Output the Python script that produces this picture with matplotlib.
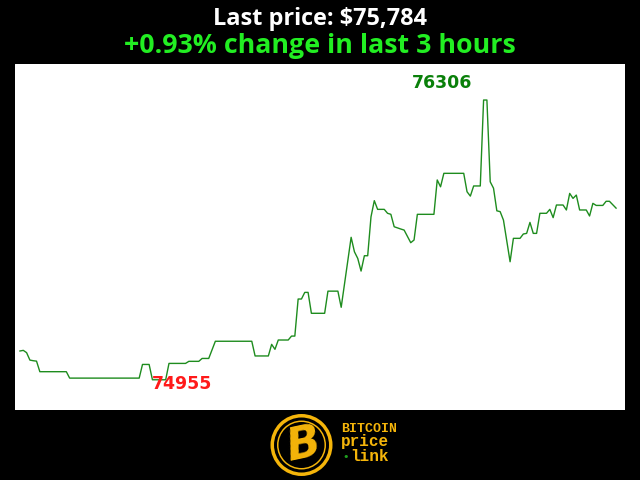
import matplotlib
matplotlib.use("Agg")
from matplotlib import pyplot as plt
from matplotlib.patches import Circle

# minutes since start of the 3 hour window, and BTC price in USD
minutes = [0, 1, 2, 3, 4, 5, 6, 14, 15, 36, 37, 39, 40, 44, 45, 50, 51, 54, 55, 57,
           59, 70, 71, 75, 76, 77, 78, 81, 82, 83, 84, 85, 86, 87, 88, 92, 93, 96, 97, 100,
           101, 102, 103, 104, 105, 106, 107, 108, 110, 111, 112, 113, 115, 116, 118, 119, 120, 125, 126, 127,
           128, 134, 135, 136, 137, 139, 140, 141, 142, 143, 144, 145, 146, 148, 149, 151, 152, 153, 154, 155,
           156, 157, 159, 160, 161, 162, 164, 165, 166, 167, 168, 169, 171, 172, 173, 174, 176, 177, 178, 180]
prices = [75094, 75097, 75086, 75050, 75047, 75045, 74994, 74994, 74963, 74963, 75029, 75029, 74955, 74955, 75034, 75034, 75044, 75044, 75058, 75058,
          75141, 75141, 75070, 75070, 75126, 75102, 75147, 75147, 75166, 75166, 75345, 75345, 75377, 75377, 75276, 75276, 75383, 75383, 75305, 75643,
          75573, 75541, 75480, 75554, 75554, 75742, 75820, 75778, 75778, 75759, 75754, 75694, 75683, 75678, 75617, 75630, 75754, 75754, 75920, 75887,
          75952, 75952, 75863, 75842, 75891, 75891, 76306, 76306, 75911, 75880, 75771, 75767, 75726, 75525, 75638, 75638, 75659, 75662, 75715, 75662,
          75662, 75759, 75759, 75778, 75738, 75799, 75799, 75775, 75855, 75831, 75847, 75775, 75775, 75746, 75807, 75797, 75797, 75817, 75817, 75784]

last_price = "$75,784"
change_text = "+0.93% change in last 3 hours"

fig = plt.figure(figsize=(6.4, 4.8), dpi=100, facecolor="black")
ax = fig.add_axes([15 / 640, 1 - 410 / 480, 610 / 640, 346 / 480])
ax.set_facecolor("white")
ax.plot(minutes, prices, color="#1e8c1e", linewidth=1)
ax.set_xlim(-1.5, 182.7)
ax.set_ylim(74809, 76480)
ax.axis("off")
ax.add_patch(plt.Rectangle((0, 0), 1, 1, transform=ax.transAxes, color="white", zorder=-1))

# high / low markers
hi = prices.index(max(prices))
lo = prices.index(min(prices))
ax.annotate(str(max(prices)), (minutes[hi], prices[hi]), xytext=(-30, 12), textcoords="offset points",
            color="#0a800a", fontsize=12.5, fontweight="bold", ha="center", va="center")
ax.annotate(str(min(prices)), (minutes[lo], prices[lo]), xytext=(21, -3), textcoords="offset points",
            color="#ff1a1a", fontsize=12.5, fontweight="bold", ha="center", va="center")

fig.text(0.5, 1 - 19 / 480, "Last price: " + last_price, color="white", fontsize=16.9,
         fontweight="bold", family="Open Sans", ha="center", va="center")
fig.text(0.5, 1 - 46 / 480, change_text, color="#22ee22", fontsize=19.3,
         fontweight="bold", family="Open Sans", ha="center", va="center")

# logo at the bottom
gold = "#f5b50a"
lx = fig.add_axes([0, 0, 1, 1], facecolor="none")
lx.set_xlim(0, 640)
lx.set_ylim(480, 0)
lx.axis("off")
lx.add_patch(Circle((301.5, 445), 31, facecolor=gold, edgecolor="none"))
lx.add_patch(Circle((301.5, 445), 27.5, facecolor="black", edgecolor="none"))
lx.add_patch(Circle((301.5, 445), 24.5, facecolor=gold, edgecolor="none"))
lx.add_patch(Circle((301.5, 445), 23, facecolor="black", edgecolor="none"))
lx.text(303, 445, "B", color=gold, fontsize=32, fontweight="bold", style="italic",
        ha="center", va="center", rotation=12)
mono = "Liberation Mono"
lx.text(341, 429, "BITCOIN", color=gold, fontsize=9.5, fontweight="bold", family=mono,
        ha="left", va="center")
lx.text(341, 446, "price", color=gold, fontsize=11.5, fontweight="bold", family=mono,
        ha="left", va="baseline")
lx.text(342, 457, "\u2022", color="#1fa01f", fontsize=8, ha="left", va="center")
lx.text(350, 461, "link", color=gold, fontsize=11.5, fontweight="bold", family=mono,
        ha="left", va="baseline")

fig.savefig("out.png", dpi=100, facecolor="black")
